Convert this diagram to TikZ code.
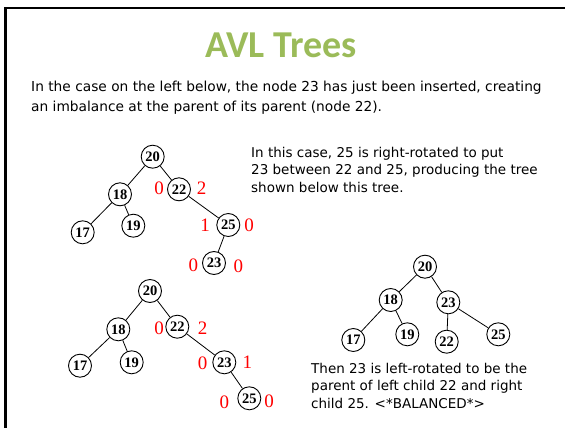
\documentclass[tikz,border=0pt]{standalone}
\usepackage{fontspec}
\setmainfont{DejaVu Sans}
\newfontfamily\titlefont{Carlito}
\newfontfamily\treefont{Liberation Serif}
\definecolor{titlegreen}{RGB}{155,187,89}
\definecolor{balred}{RGB}{255,0,0}
\tikzset{
  tnode/.style={circle, draw, line width=0.9pt, minimum size=23pt, inner sep=0pt,
    font=\treefont\fontsize{14.5}{14.5}\selectfont\bfseries},
  bal/.style={text=balred, font=\treefont\fontsize{19}{19}\selectfont, inner sep=0pt},
  edge/.style={line width=0.8pt},
  body/.style={align=left, inner sep=0pt, anchor=north west}
}
\begin{document}
\begin{tikzpicture}[x=1pt,y=-1pt]
\useasboundingbox (0,0) rectangle (565,428);
% slide frame
\draw[line width=2.6pt] (5.5,428) -- (5.5,8) -- (565,8);

% title and introduction
\node[text=titlegreen, font=\titlefont\fontsize{38}{38}\selectfont\bfseries] (title) at (281,45) {AVL Trees};
\node[body, font=\fontsize{13.75}{19.5}\selectfont] (intro) at (31,81)
  {In the case on the left below, the node 23 has just been inserted, creating\\
   an imbalance at the parent of its parent (node 22).};

% tree after inserting 23
\node[tnode] (a20) at (152.7,156.7) {20};
\node[tnode] (a18) at (120,194.3) {18};
\node[tnode] (a22) at (179,189.3) {22};
\node[tnode] (a17) at (82.7,232.3) {17};
\node[tnode] (a19) at (133.3,225.7) {19};
\node[tnode] (a25) at (228.3,225) {25};
\node[tnode] (a23) at (214,263) {23};
\draw[edge] (a20) -- (a18);
\draw[edge] (a20) -- (a22);
\draw[edge] (a18) -- (a17);
\draw[edge] (a18) -- (a19);
\draw[edge] (a22) -- (a25);
\draw[edge] (a25) -- (a23);
\node[bal] (a22l) at (159,188.3) {0};
\node[bal] (a22r) at (201.7,188.3) {2};
\node[bal] (a25l) at (205,225) {1};
\node[bal] (a25r) at (249,225) {0};
\node[bal] (a23l) at (193.3,265.7) {0};
\node[bal] (a23r) at (238.3,266.7) {0};

\node[body, font=\fontsize{13.5}{17.5}\selectfont] (note1) at (251,147)
  {In this case, 25 is right-rotated to put\\
   23 between 22 and 25, producing the tree\\
   shown below this tree.};

% tree after the right rotation
\node[tnode] (b20) at (150,291) {20};
\node[tnode] (b18) at (118.3,329.3) {18};
\node[tnode] (b22) at (177.3,326.7) {22};
\node[tnode] (b17) at (80,365.7) {17};
\node[tnode] (b19) at (131.7,362.3) {19};
\node[tnode] (b23) at (224.3,362.3) {23};
\node[tnode] (b25) at (249.3,398.3) {25};
\draw[edge] (b20) -- (b18);
\draw[edge] (b20) -- (b22);
\draw[edge] (b18) -- (b17);
\draw[edge] (b18) -- (b19);
\draw[edge] (b22) -- (b23);
\draw[edge] (b23) -- (b25);
\node[bal] (b22l) at (159,328.3) {0};
\node[bal] (b22r) at (202.7,328.3) {2};
\node[bal] (b23l) at (202.7,363.3) {0};
\node[bal] (b23r) at (247.3,362.3) {1};
\node[bal] (b25l) at (224.3,402.7) {0};
\node[bal] (b25r) at (269,401.7) {0};

% balanced tree after the left rotation
\node[tnode] (c20) at (425,266.7) {20};
\node[tnode] (c18) at (390.7,300) {18};
\node[tnode] (c23) at (448.3,302.3) {23};
\node[tnode] (c17) at (353.3,340) {17};
\node[tnode] (c19) at (407.3,334.3) {19};
\node[tnode] (c22) at (446.7,341.7) {22};
\node[tnode] (c25) at (498.3,334.3) {25};
\draw[edge] (c20) -- (c18);
\draw[edge] (c20) -- (c23);
\draw[edge] (c18) -- (c17);
\draw[edge] (c18) -- (c19);
\draw[edge] (c23) -- (c22);
\draw[edge] (c23) -- (c25);

\node[body, font=\fontsize{13.5}{17.5}\selectfont] (note2) at (311,363)
  {Then 23 is left-rotated to be the\\
   parent of left child 22 and right\\
   child 25. <*BALANCED*>};
\end{tikzpicture}
\end{document}
